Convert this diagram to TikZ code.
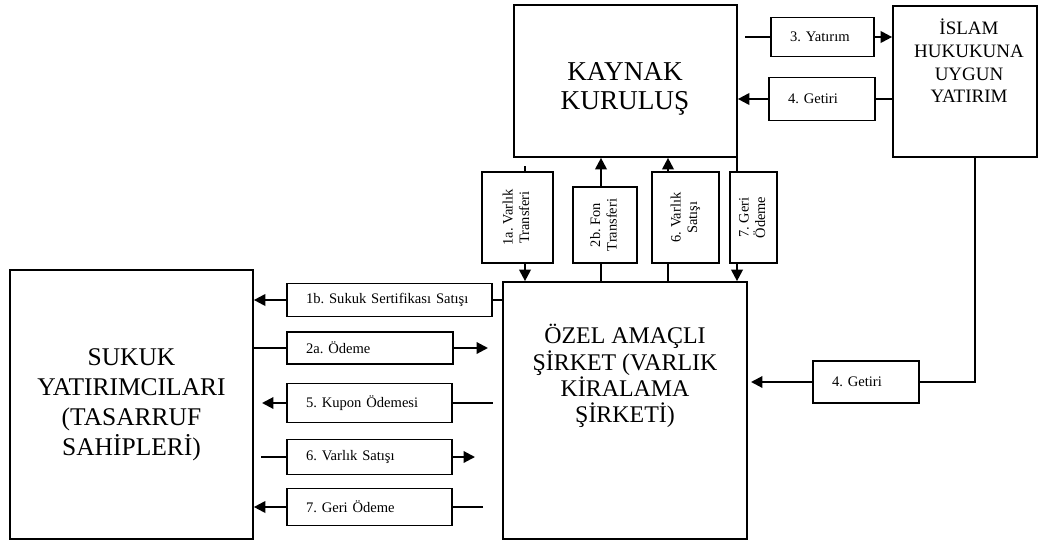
\documentclass[tikz,border=0pt]{standalone}
\usepackage{fontspec}
\setmainfont{Liberation Serif}
\usepackage{graphicx}
\usetikzlibrary{arrows.meta}
\frenchspacing

\newcommand{\dikyazi}[2]{\rotatebox{90}{\begin{tabular}{@{}c@{}}#1\\#2\end{tabular}}}
\tikzset{
  kutu/.style={draw, line width=1pt, inner sep=0pt},
  etiket/.style={draw, line width=1pt, font=\fontsize{8.3}{9.5}\selectfont, align=left, inner xsep=0.38cm, inner ysep=0pt},
  dikey/.style={draw, line width=1pt, font=\fontsize{8.2}{9.5}\selectfont, inner sep=0pt},
  hat/.style={line width=1.2pt},
  ok/.style={hat, -{Triangle[length=6.5pt,width=6.5pt]}}
}

\begin{document}
\begin{tikzpicture}[x=0.02cm, y=-0.02cm]
\useasboundingbox (0,0) rectangle (1040,541);
% ana kutular
\node[kutu, minimum width=4.46cm, minimum height=3.04cm] (kay) at (625.5,81) {};
\node[font=\fontsize{15.5}{16.6}\selectfont, align=center] (kaytxt) at (625,89) {KAYNAK\\KURULUŞ};
\node[kutu, minimum width=2.88cm, minimum height=3.02cm] (isl) at (965,81.5) {};
\node[font=\fontsize{10.8}{12.9}\selectfont, align=center] (isltxt) at (969,61) {İSLAM\\HUKUKUNA\\UYGUN\\YATIRIM};
\node[kutu, minimum width=4.88cm, minimum height=5.14cm] (ozl) at (625,410.5) {};
\node[font=\fontsize{13.6}{14.9}\selectfont, align=center] (ozltxt) at (625,376) {ÖZEL AMAÇLI\\ŞİRKET (VARLIK\\KİRALAMA\\ŞİRKETİ)};
\node[kutu, minimum width=4.86cm, minimum height=5.38cm, font=\fontsize{14.5}{17}\selectfont, align=center] (suk) at (131.5,404.5) {SUKUK\\YATIRIMCILARI\\(TASARRUF\\SAHİPLERİ)};

% yatay etiketler
\node[etiket, text width=1.30cm, minimum height=0.78cm] (t3) at (822.5,37) {3. Yatırım};
\node[etiket, text width=1.36cm, minimum height=0.86cm] (t4a) at (822,99) {4. Getiri};
\node[etiket, text width=3.34cm, minimum height=0.66cm] (t1b) at (389.5,300) {1b. Sukuk Sertifikası Satışı};
\node[etiket, text width=2.56cm, minimum height=0.64cm] (t2a) at (370,348) {2a. Ödeme};
\node[etiket, text width=2.54cm, minimum height=0.78cm] (t5) at (369.5,403) {5. Kupon Ödemesi};
\node[etiket, text width=2.54cm, minimum height=0.70cm] (t6) at (369.5,457) {6. Varlık Satışı};
\node[etiket, text width=2.54cm, minimum height=0.74cm] (t7) at (369.5,507) {7. Geri Ödeme};
\node[etiket, text width=1.36cm, minimum height=0.84cm] (t4b) at (866,382) {4. Getiri};

% dikey etiketler
\node[dikey, minimum width=1.42cm, minimum height=1.82cm] (v1a) at (517.5,217.5) {\dikyazi{1a. Varlık}{Transferi}};
\node[dikey, minimum width=1.28cm, minimum height=1.52cm] (v2b) at (605,225) {\dikyazi{2b. Fon}{Transferi}};
\node[dikey, minimum width=1.34cm, minimum height=1.82cm] (v6) at (685.5,217.5) {\dikyazi{6. Varlık}{Satışı}};
\node[dikey, minimum width=0.94cm, minimum height=1.82cm] (v7) at (753.5,217.5) {\dikyazi{7. Geri}{Ödeme}};

% serbest uclar
\coordinate (c3) at (745,37);
\coordinate (c2a) at (488,348);
\coordinate (c5l) at (262,403);
\coordinate (c5r) at (493,403);
\coordinate (c6l) at (261,457);
\coordinate (c6r) at (475,457);
\coordinate (c7r) at (483,507);
\coordinate (c4b) at (751,382);
\coordinate (d4) at (975,382);
\coordinate (c1a) at (525,166);
\coordinate (x2b) at (601,0);
\coordinate (x6) at (668,0);
\coordinate (x7) at (737,0);

% oklar
\draw[hat] (c3) -- (t3.west);
\draw[ok] (t3.east) -- (isl.west |- t3.east);
\draw[hat] (isl.west |- t4a.east) -- (t4a.east);
\draw[ok] (t4a.west) -- (kay.east |- t4a.west);

\draw[hat] (c1a) -- (c1a |- v1a.north);
\draw[ok] (c1a |- v1a.south) -- (c1a |- ozl.north);
\draw[hat] (ozl.north -| x2b) -- (v2b.south -| x2b);
\draw[ok] (v2b.north -| x2b) -- (kay.south -| x2b);
\draw[hat] (ozl.north -| x6) -- (v6.south -| x6);
\draw[ok] (v6.north -| x6) -- (kay.south -| x6);
\draw[hat] (kay.south -| x7) -- (v7.north -| x7);
\draw[ok] (v7.south -| x7) -- (ozl.north -| x7);

\draw[hat] (ozl.west |- t1b.east) -- (t1b.east);
\draw[ok] (t1b.west) -- (suk.east |- t1b.west);
\draw[hat] (suk.east |- t2a.west) -- (t2a.west);
\draw[ok] (t2a.east) -- (c2a);
\draw[hat] (t5.east) -- (c5r);
\draw[ok] (t5.west) -- (c5l);
\draw[hat] (c6l) -- (t6.west);
\draw[ok] (t6.east) -- (c6r);
\draw[hat] (c7r) -- (t7.east);
\draw[ok] (t7.west) -- (suk.east |- t7.west);

\draw[hat] (isl.south -| d4) -- (d4) -- (t4b.east);
\draw[ok] (t4b.west) -- (c4b);
\end{tikzpicture}
\end{document}
